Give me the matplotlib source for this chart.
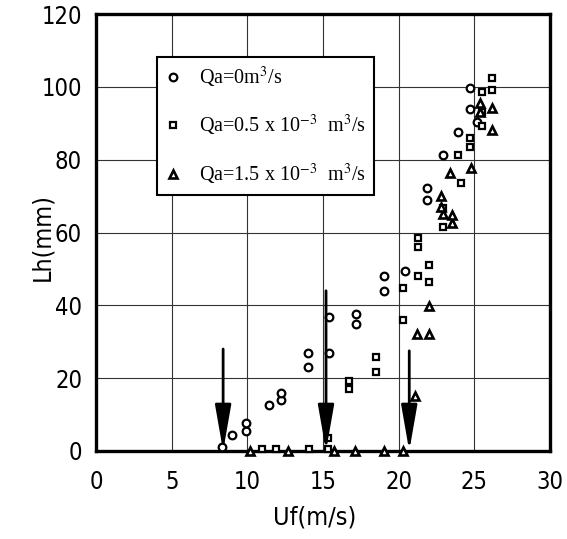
import matplotlib
matplotlib.use("Agg")
import matplotlib.pyplot as plt
from matplotlib import font_manager
from matplotlib.lines import Line2D

# Qa = 0 m3/s (circles)
uf_q0 = [8.3, 9.0, 9.9, 9.9, 11.4, 12.2, 12.2, 14.0, 14.0, 15.4, 15.4, 17.2, 17.2,
         19.0, 19.0, 20.4, 21.9, 21.9, 22.9, 23.9, 24.7, 24.7, 25.2]
lh_q0 = [1.0, 4.4, 5.5, 7.7, 12.5, 14.0, 16.0, 23.0, 27.0, 27.0, 36.7, 34.8, 37.5,
         44.0, 48.0, 49.3, 69.0, 72.3, 81.4, 87.7, 94.0, 99.7, 90.4]

# Qa = 0.5e-3 m3/s (squares)
uf_q05 = [11.0, 11.9, 14.1, 15.3, 15.3, 16.7, 16.7, 18.5, 18.5, 20.3, 20.3, 21.3, 21.3,
          21.3, 22.0, 22.0, 22.9, 22.9, 23.9, 24.1, 24.7, 24.7, 25.5, 25.5, 25.5, 26.2, 26.2]
lh_q05 = [0.5, 0.5, 0.5, 0.5, 3.5, 17.0, 19.2, 21.6, 25.8, 36.0, 44.8, 48.0, 56.0,
          58.5, 46.3, 51.2, 61.6, 66.8, 81.4, 73.7, 83.5, 86.0, 89.3, 93.0, 98.6, 99.2, 102.5]

# Qa = 1.5e-3 m3/s (triangles)
uf_q15 = [10.2, 12.7, 15.7, 17.1, 19.0, 20.3, 21.1, 21.2, 22.0, 22.0, 22.9, 22.8, 22.8,
          23.5, 23.5, 23.4, 24.8, 25.4, 25.4, 26.2, 26.2]
lh_q15 = [0.0, 0.0, 0.0, 0.0, 0.0, 0.0, 15.0, 32.0, 32.0, 39.7, 65.0, 67.1, 69.9,
          62.7, 64.9, 76.4, 77.8, 93.2, 95.6, 94.2, 88.2]

# onset velocities marked with arrows (x, start height)
arrow_x = [8.4, 15.2, 20.7]
arrow_top = [28, 44, 27.5]

labels = ["Qa=0m$^3$/s",
          "Qa=0.5 x 10$^{-3}$  m$^3$/s",
          "Qa=1.5 x 10$^{-3}$  m$^3$/s"]

plt.rcParams["mathtext.fontset"] = "stix"

# narrow sans for the axes text, if one is around
names = {f.name for f in font_manager.fontManager.ttflist}
narrow = [n for n in ["Liberation Sans Narrow", "Arial Narrow"] if n in names]
has_cond = any(f.name == "DejaVu Sans" and f.stretch in ("condensed", 300, "semi-condensed")
               for f in font_manager.fontManager.ttflist)
if narrow:
    axfont = dict(family=narrow[0])
elif has_cond:
    axfont = dict(family="DejaVu Sans", stretch="condensed")
else:
    axfont = dict(family="DejaVu Sans")

fig = plt.figure(figsize=(5.67, 5.39), dpi=100)
ax = fig.add_axes([96 / 567, 1 - 451 / 539, 454 / 567, 437 / 539])

mk = dict(linestyle="none", markerfacecolor="white", markeredgecolor="black",
          clip_on=False, zorder=5)
ax.plot(uf_q0, lh_q0, marker="o", markersize=5.5, markeredgewidth=1.6, **mk)
ax.plot(uf_q05, lh_q05, marker="s", markersize=5, markeredgewidth=1.6, **mk)
ax.plot(uf_q15, lh_q15, marker="^", markersize=6, markeredgewidth=1.9, **mk)

for x, top in zip(arrow_x, arrow_top):
    ax.annotate("", xy=(x, 0), xytext=(x, top),
                arrowprops=dict(arrowstyle="-|>,head_length=2.0,head_width=0.35",
                                lw=2, color="black", shrinkA=0, shrinkB=0,
                                mutation_scale=14), zorder=6)

ax.set_xlim(0, 30)
ax.set_ylim(0, 120)
ax.set_xticks(range(0, 31, 5))
ax.set_yticks(range(0, 121, 20))
ax.grid(True, color="#333333", linewidth=0.8)
ax.set_axisbelow(True)
for s in ax.spines.values():
    s.set_linewidth(2.4)
ax.tick_params(length=0, pad=10)
ax.tick_params(axis="x", pad=14)
for lab in ax.get_xticklabels() + ax.get_yticklabels():
    lab.set(fontsize=17, **axfont)

ax.set_xlabel("Uf(m/s)", fontsize=18, **axfont)
ax.set_ylabel("Lh(mm)", fontsize=18, **axfont)
ax.xaxis.set_label_coords(0.482, -0.125)
ax.yaxis.set_label_coords(-0.092, 0.49)

handles = [Line2D([], [], marker=m, linestyle="none", markerfacecolor="white",
                  markeredgecolor="black", markersize=ms, markeredgewidth=mew)
           for m, ms, mew in [("o", 5.5, 1.6), ("s", 5, 1.6), ("^", 6, 1.9)]]
leg = ax.legend(handles, labels, loc="upper left", bbox_to_anchor=(0.134, 0.902),
                prop={"family": "Liberation Serif", "size": 14.5}, frameon=True,
                fancybox=False, edgecolor="black", framealpha=1, labelspacing=1.15,
                handlelength=0.8, handletextpad=0.9, borderpad=0.4, borderaxespad=0)
leg.get_frame().set_linewidth(1.5)
leg.set_zorder(4)

plt.savefig("out.png", dpi=100)
